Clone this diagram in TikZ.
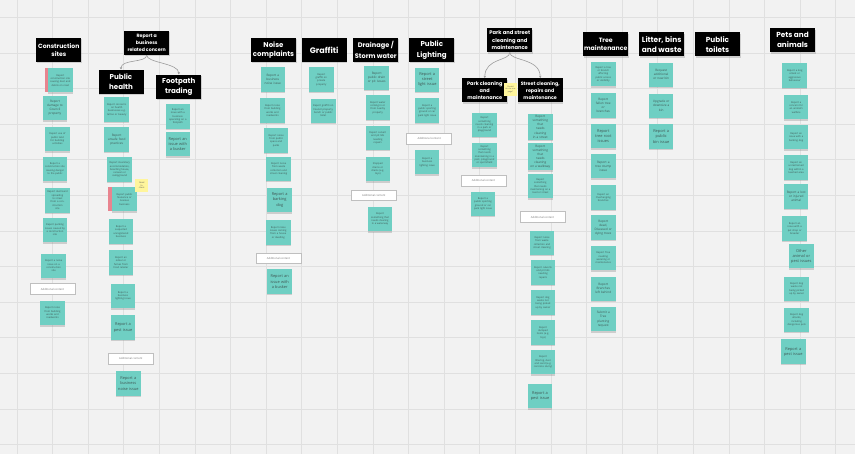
\documentclass[tikz,border=0pt]{standalone}
\usepackage{fontspec}
\newfontfamily\hdrfont{Poppins}
\newfontfamily\notefont{Open Sans}
\usetikzlibrary{shadows,arrows.meta}
\definecolor{bgc}{HTML}{F2F2F2}
\definecolor{gridc}{HTML}{E0E0E0}
\definecolor{notec}{HTML}{6FCFC3}
\definecolor{notetxt}{HTML}{3F5653}
\definecolor{pinkc}{HTML}{E8848F}
\definecolor{yelc}{HTML}{FFF59C}
\definecolor{connc}{HTML}{9C9C9C}
\newcommand\hf[2]{\hdrfont\bfseries\fontsize{#1}{#2}\selectfont}
\newcommand\nf[2]{\notefont\fontsize{#1}{#2}\selectfont}
\begin{document}
\begin{tikzpicture}[x=1pt,y=-1pt,
  hdr/.style={fill=black, text=white, align=center, minimum width=45, minimum height=24, inner sep=0pt,
    drop shadow={shadow xshift=0.5pt, shadow yshift=-1.3pt, opacity=0.3}},
  note/.style={fill=notec, text=notetxt, align=center, minimum width=24.5, minimum height=24.5,
    text width=21, inner sep=1.75pt, font=\nf{2.5}{3.3},
    drop shadow={shadow xshift=0pt, shadow yshift=-1.4pt, opacity=0.32}},
  mnote/.style={note, font=\nf{3.1}{4.1}},
  bnote/.style={note, font=\nf{3.9}{5.2}},
  pnk/.style={fill=pinkc, minimum width=24.5, minimum height=24.5, inner sep=0pt},
  yel/.style={fill=yelc, text=black!65, align=center, minimum width=13, minimum height=13, text width=11.5,
    inner sep=0.75pt, font=\nf{2.1}{2.8}},
  addc/.style={fill=white, draw=black!25, line width=0.7, minimum width=45, minimum height=10.5,
    inner sep=0pt, text=black!55, font=\nf{2.7}{3}},
  conn/.style={draw=connc, line width=0.6, -{Stealth[length=2.4pt,width=2.4pt]}}
]
\useasboundingbox (0,0) rectangle (855,454);
\fill[bgc] (0,0) rectangle (855,454);
\foreach \i in {0,...,23} \draw[gridc, line width=0.8] ({17+35.6*\i},0) -- ({17+35.6*\i},454);
\foreach \j in {0,...,12} \draw[gridc, line width=0.8] (0,{17.4+35.6*\j}) -- (855,{17.4+35.6*\j});

% ---------------- Construction sites
\node[hdr, font=\hf{6.1}{8}] (cs) at (58.8,49.8) {Construction\\sites};
\node[pnk] (c1p) at (57.7,80.2) {};
\node[note] (c1) at (60.3,80.2) {Report\\construction site\\causing dust and\\debris on road};
\node[mnote] (c2) at (55,108) {Report\\damage to\\Council\\property};
\node[note] (c3) at (57.5,139) {Report use of\\public land\\for building\\activities};
\node[note] (c4) at (55,169) {Report a\\construction site\\causing danger\\to the public};
\node[note] (c5) at (57.5,200.3) {Report dust/sand\\spreading to street\\from a construction\\site};
\node[note] (c6) at (55,230) {Report parking\\issues caused by\\a construction\\site};
\node[note] (c7) at (53.7,266) {Report a noise\\issue on a\\construction\\site};
\node[addc] (cad) at (52.5,289) {Additional content};
\node[note] (c8) at (52.5,313) {Report noise\\from building\\works and\\roadworks};

% ---------------- Business related concern
\node[hdr, font=\hf{4.7}{7}] (rb) at (146.7,43) {Report a\\business\\related concern};
\node[hdr, font=\hf{7.1}{9.8}] (ph) at (121,81.7) {Public\\health};
\node[hdr, font=\hf{7.1}{9.8}] (fp) at (178.8,86.7) {Footpath\\trading};
\draw[conn] (rb.south) .. controls (146.7,63) and (121,59) .. (ph.north);
\draw[conn] (rb.south) .. controls (146.7,63) and (178.8,63) .. (fp.north);

\node[note] (ph1) at (116.7,109.7) {Report concerns\\on health\\businesses e.g.\\tattoo or beauty};
\node[mnote] (ph2) at (116.7,139.5) {Report\\unsafe food\\practices};
\node[note] (ph3) at (119.7,169.7) {Report insanitary\\accommodation,\\boarding house,\\caravan or\\campground};
\node[pnk] (ph4p) at (119.9,199.2) {};
\node[note] (ph4) at (124.5,199.2) {Report public\\Nuisance or\\noxious\\business};
\node[yel] (y1) at (141.7,185.3) {Need\\to\\check};
\node[note] (ph5) at (121,231.7) {Report a\\suspected\\unregistered\\business};
\node[note] (ph6) at (121,262.5) {Report an\\odour or\\fumes from\\food retailer};
\node[note] (ph7) at (123,296) {Report a\\business\\lighting issue};
\node[bnote] (ph8) at (123,327.5) {Report a\\pest issue};
\node[addc] (phad) at (130.8,358.8) {Additional content};
\node[bnote] (ph9) at (128.3,383.5) {Report a\\business\\noise issue};

\node[note] (f1) at (177.8,116.7) {Report an\\issue with a\\business\\operating on a\\footpath};
\node[bnote] (f2) at (177.8,144.2) {Report an\\issue with\\a busker};

% ---------------- Noise complaints
\node[hdr, font=\hf{7}{9.6}] (nc) at (273.5,50) {Noise\\complaints};
\node[mnote] (n1) at (272.8,79.5) {Report a\\business\\noise issue};
\node[note] (n2) at (272.5,110.5) {Report noise\\from building\\works and\\roadworks};
\node[note] (n3) at (276.2,140.5) {Report noise\\from public\\space and\\parks};
\node[note] (n4) at (278.7,168.8) {Report noise\\from waste\\collection and\\street cleaning};
\node[bnote] (n5) at (279.7,200) {Report a\\barking\\dog};
\node[note] (n6) at (278.3,232.5) {Report noise\\issues coming\\from a house\\or dwelling};
\node[addc] (nad) at (278.5,258.5) {Additional content};
\node[bnote] (n7) at (279.7,281.7) {Report an\\issue with\\a busker};

% ---------------- Graffiti
\node[hdr, font=\hf{8}{10}] (gr) at (324.2,50) {Graffiti};
\node[note] (g1) at (321.3,79.5) {Report\\graffiti on\\private\\property};
\node[note] (g2) at (323.3,110.8) {Report graffiti on\\Council property,\\bench or public\\toilet};

% ---------------- Drainage
\node[hdr, font=\hf{6.6}{10.5}] (dr) at (375.8,50) {Drainage /\\Storm water};
\node[mnote] (d1) at (376.7,77.8) {Report\\public drain\\or pit issues};
\node[note] (d2) at (377.8,107.5) {Report water\\coming in or\\from nearby\\property};
\node[note] (d3) at (377.8,137.8) {Report culvert\\and pit lids\\needing\\repairs};
\node[note] (d4) at (377.8,169.2) {Stopped\\drains or\\drains (e.g.\\toys)};
\node[addc] (dad) at (373.8,195.5) {Additional content};
\node[note] (d5) at (380,219.2) {Report\\something that\\needs clearing\\in a waterway};

% ---------------- Public lighting
\node[hdr, font=\hf{7.1}{10.6}] (pl) at (431.8,50) {Public\\Lighting};
\node[bnote] (l1) at (427.2,79.8) {Report a\\street\\light issue};
\node[note] (l2) at (427.2,110.5) {Report a\\public sporting\\ground or car\\park light issue};
\node[addc] (lad) at (429.2,138.8) {Additional content};
\node[note] (l3) at (427.2,162.2) {Report a\\business\\lighting issue};

% ---------------- Park and street cleaning
\node[hdr, font=\hf{5.2}{7.2}] (ps) at (509.8,40.3) {Park and street\\cleaning and\\maintenance};
\node[hdr, font=\hf{5}{7}] (pc) at (484.8,90.3) {Park cleaning\\and\\maintenance};
\node[hdr, font=\hf{4.8}{7}] (sc) at (540.2,90.3) {Street cleaning,\\repairs and\\maintenance};
\draw[conn] (ps.south) .. controls (509.8,61) and (484.8,58) .. (pc.north);
\draw[conn] (ps.south) .. controls (509.8,61) and (540.2,58) .. (sc.north);
\node[yel, font=\nf{1.9}{2.5}] (y2) at (510.5,89.3) {Should\\this be one\\page?};

\node[note] (p1) at (484.5,124.8) {Report something\\needs cleaning\\in a park or\\playground};
\node[note] (p2) at (484.5,155) {Report something\\that needs\\maintaining in a\\park, playground\\or sportsfield};
\node[addc] (pad) at (483.5,180.8) {Additional content};
\node[note] (p3) at (483,203.8) {Report a\\public sporting\\ground or car\\park light issue};

\node[mnote] (s1) at (540.3,126.8) {Report\\something that\\needs cleaning\\in a street};
\node[mnote] (s2) at (540.3,156.7) {Report\\something that\\needs cleaning\\on a walkway};
\node[note] (s3) at (540.3,186.2) {Report something\\that needs\\maintaining on a\\road or street};
\node[addc] (sad) at (542.5,217) {Additional content};
\node[note] (s4) at (542,242.8) {Report noise\\from waste\\collection and\\street cleaning};
\node[note] (s5) at (543,272.5) {Report culverts\\and pit lids\\needing\\repairs};
\node[note] (s6) at (543,302.5) {Report dog\\waste not\\being picked\\up by owner};
\node[note] (s7) at (543,332.5) {Report\\dumped\\items (e.g.\\toys)};
\node[note] (s8) at (543,362.2) {Report\\littering, dust\\and sand (e.g.\\concrete slurry)};
\node[bnote] (s9) at (540,396.2) {Report a\\pest issue};

% ---------------- Tree maintenance
\node[hdr, font=\hf{6.2}{7.6}] (tm) at (605.8,44.3) {Tree\\maintenance};
\node[note] (t1) at (603.3,74.2) {Report a tree\\or branch\\affecting\\public access\\or visibility};
\node[mnote] (t2) at (603.3,105.5) {Report\\fallen tree\\or\\branches};
\node[bnote] (t3) at (603.3,136.2) {Report\\tree root\\issues};
\node[mnote] (t4) at (603.3,166.2) {Report a\\tree stump\\issue};
\node[note] (t5) at (603.3,197.5) {Report an\\Overhanging\\branches};
\node[mnote] (t6) at (603.3,227.5) {Report\\dead,\\Diseased or\\dying trees};
\node[note] (t7) at (603.3,258) {Report Tree\\needing\\watering or\\maintenance};
\node[mnote] (t8) at (603.3,288.8) {Report\\Branches\\left behind};
\node[mnote] (t9) at (603.3,319.2) {Submit a\\Tree\\planting\\request};

% ---------------- Litter, bins and waste
\node[hdr, font=\hf{7.4}{10.3}] (lb) at (661.7,44.3) {Litter, bins\\and waste};
\node[mnote] (b1) at (661.2,74.8) {Request\\additional\\or new bin};
\node[mnote] (b2) at (661.2,105.8) {Upgrade or\\downsize a\\bin};
\node[bnote] (b3) at (661.2,136.5) {Report a\\public\\bin issue};

% ---------------- Public toilets
\node[hdr, font=\hf{7.3}{10}] (pt) at (717.5,44.5) {Public\\toilets};

% ---------------- Pets and animals
\node[hdr, font=\hf{7.3}{10}] (pa) at (792.5,40.3) {Pets and\\animals};
\node[note] (a1) at (794.7,75.5) {Report a dog\\attack or\\aggressive\\behaviour};
\node[note] (a2) at (796.2,107.2) {Report a\\concern for\\an animal's\\welfare};
\node[note] (a3) at (796.2,137.2) {Report an\\issue with a\\barking dog};
\node[note] (a4) at (796.2,167.5) {Report an\\unrestrained\\dog within a\\leashed area};
\node[mnote] (a5) at (796.2,196.7) {Report a lost\\or injured\\animal};
\node[note] (a6) at (794.7,228.5) {Report an\\issue with a\\pet shop or\\breeder};
\node[bnote] (a7) at (801.3,256.2) {Other\\animal or\\pest issues};
\node[note] (a8) at (796.7,288.8) {Report dog\\waste not\\being picked\\up by owner};
\node[note] (a9) at (796.7,319.8) {Report dog\\attacks,\\including\\dangerous pets};
\node[bnote] (a10) at (793.3,351.7) {Report a\\pest issue};
\end{tikzpicture}
\end{document}
